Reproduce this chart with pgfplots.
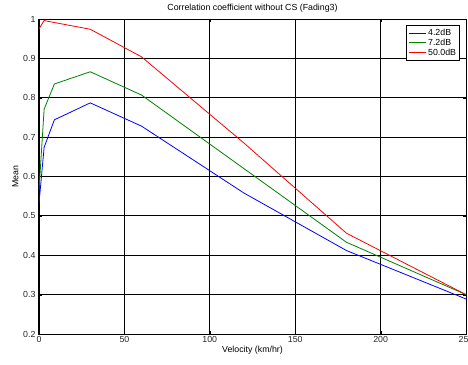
\documentclass[border=0pt]{standalone}
\usepackage{fontspec}
\setmainfont{Liberation Sans}
\usepackage{pgfplots}
\pgfplotsset{compat=1.18}
\begin{document}
\begin{tikzpicture}
\begin{axis}[
  at={(0,0)}, anchor=south west,
  scale only axis, width=427pt, height=315pt,
  xmin=0, xmax=250, ymin=0.2, ymax=1,
  xtick={0,50,...,250}, ytick={0.2,0.3,...,1},
  yticklabels={0.2,0.3,0.4,0.5,0.6,0.7,0.8,0.9,1},
  grid=major, major grid style={black, line width=0.9pt},
  axis line style={black, line width=1pt},
  tick style={black}, major tick length=3pt,
  tick align=inside,
  /pgf/number format/assume math mode=true,
  ticklabel style={font=\fontsize{8.8}{10}\selectfont, text=black!85},
  xticklabel style={yshift=1pt},
  label style={font=\fontsize{8.8}{10}\selectfont},
  xlabel={Velocity (km/hr)}, ylabel={Mean},
  xlabel style={yshift=4pt}, ylabel style={yshift=-2pt},
  title={Correlation coefficient without CS (Fading3)},
  title style={font=\fontsize{8.8}{10}\selectfont, yshift=-3pt},
  legend style={at={(axis description cs:0.986,0.981)}, anchor=north east,
    draw=black, line width=1pt, font=\fontsize{8.8}{10}\selectfont,
    inner sep=1.5pt, row sep=-2pt, cells={anchor=west}},
  legend cell align=left,
  legend image code/.code={\draw[#1, line width=0.8pt] (0cm,0cm) -- (0.6cm,0cm);},
]
\addplot[blue, line width=0.8pt] coordinates {
(0,0.532) (3,0.674) (9,0.744) (30,0.787) (60,0.728) (120,0.558) (180,0.412) (250,0.289)};
\addplot[green!50!black, line width=0.8pt] coordinates {
(0,0.565) (3,0.771) (9,0.835) (30,0.866) (60,0.807) (120,0.620) (180,0.433) (250,0.300)};
\addplot[red, line width=0.8pt] coordinates {
(0,0.975) (3,0.996) (30,0.974) (60,0.904) (120,0.685) (180,0.456) (250,0.300)};
\legend{4.2dB,7.2dB,50.0dB}
\end{axis}
\pgfresetboundingbox
\path[use as bounding box] (-39pt,-30pt) rectangle (429pt,334pt);
\end{tikzpicture}
\end{document}
